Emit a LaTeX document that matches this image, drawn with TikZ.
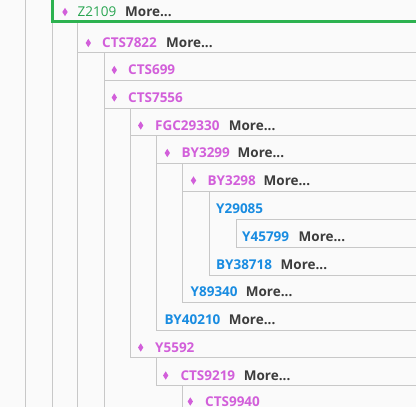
\documentclass[tikz,border=0pt]{standalone}
\usepackage{fontspec}
\setmainfont{Open Sans}
\usetikzlibrary{shapes.geometric}
\definecolor{idpink}{RGB}{210,95,218}
\definecolor{idblue}{RGB}{25,140,225}
\definecolor{idgreen}{RGB}{40,165,80}
\definecolor{selgreen}{RGB}{45,178,80}
\definecolor{moregray}{RGB}{60,60,60}
\definecolor{rulegray}{RGB}{200,200,200}
\definecolor{pagebg}{RGB}{250,250,250}

\begin{document}
\begin{tikzpicture}[x=1pt, y=-1pt,
                    pinkid/.style={anchor=base west, inner sep=0pt, font=\fontsize{13.5}{16}\selectfont\bfseries, text=idpink},
                    blueid/.style={anchor=base west, inner sep=0pt, font=\fontsize{13.5}{16}\selectfont\bfseries, text=idblue},
                    more/.style={anchor=base west, inner sep=0pt, font=\fontsize{13.5}{16}\selectfont\bfseries, text=moregray},
                    dia/.style={diamond, fill=idpink, inner sep=0pt, minimum width=5.5pt, minimum height=8.5pt},
                    rule/.style={draw=rulegray, line width=1pt}]
    \useasboundingbox (0,0) rectangle (416,407);
    \clip (0,0) rectangle (416,407);
    \fill[pagebg] (0,0) rectangle (416,407);
    % tree rules
    \foreach \x/\a/\b in {25.5/0/407, 52.5/23/407, 77.5/23/407, 104.5/52/407, 130.5/108/358, 156.5/135/331,
                          182.5/163/303, 209.5/191/276, 236.5/219/248, 156.5/357/386, 182.5/385/407}
        \draw[rule] (\x,\a) -- (\x,\b);
    \foreach \y/\x in {52.5/77, 80.5/104, 108.5/104, 135.5/130, 163.5/156, 191.5/182, 219.5/236, 247.5/236,
                       275.5/209, 302.5/182, 330.5/156, 357.5/130, 385.5/156}
        \draw[rule] (\x,\y) -- (416,\y);
    % selected row
    \draw[selgreen, line width=3pt] (52.7,-5) -- (52.7,21.7) -- (420,21.7);
    \node[dia] (d0) at (65,12) {};
    \node[pinkid, text=idgreen, font=\fontsize{13.5}{16}\selectfont] (z2109) at (77.5,16.5) {Z2109};
    \node[more] (m0) at (125,16.5) {More...};
    % rows
    \node[dia] (d1) at (88.3,43) {};
    \node[pinkid] (cts7822) at (102,47.5) {CTS7822};
    \node[more] (m1) at (166,47.5) {More...};
    \node[dia] (d2) at (114.3,70) {};
    \node[pinkid] (cts699) at (128,74.5) {CTS699};
    \node[dia] (d3) at (114.3,97.5) {};
    \node[pinkid] (cts7556) at (128,102) {CTS7556};
    \node[dia] (d4) at (140.7,125.5) {};
    \node[pinkid] (fgc29330) at (155,130) {FGC29330};
    \node[more] (m4) at (228.7,130) {More...};
    \node[dia] (d5) at (167.3,153) {};
    \node[pinkid] (by3299) at (181.5,157.5) {BY3299};
    \node[more] (m5) at (237.5,157.5) {More...};
    \node[dia] (d6) at (193.5,180.5) {};
    \node[pinkid] (by3298) at (207.5,185) {BY3298};
    \node[more] (m6) at (263.5,185) {More...};
    \node[blueid] (y29085) at (216,213.5) {Y29085};
    \node[blueid] (y45799) at (242,241) {Y45799};
    \node[more] (m8) at (298.5,241) {More...};
    \node[blueid] (by38718) at (216,269) {BY38718};
    \node[more] (m9) at (280.5,269) {More...};
    \node[blueid] (y89340) at (190.5,296) {Y89340};
    \node[more] (m10) at (245.7,296) {More...};
    \node[blueid] (by40210) at (164.3,324) {BY40210};
    \node[more] (m11) at (228.7,324) {More...};
    \node[dia] (d12) at (140.7,347.5) {};
    \node[pinkid] (y5592) at (155,352) {Y5592};
    \node[dia] (d13) at (165.7,375.5) {};
    \node[pinkid] (cts9219) at (180.3,380) {CTS9219};
    \node[more] (m13) at (243.7,380) {More...};
    \node[dia] (d14) at (190.3,401.5) {};
    \node[pinkid] (cts9940) at (205,406) {CTS9940};
\end{tikzpicture}
\end{document}
